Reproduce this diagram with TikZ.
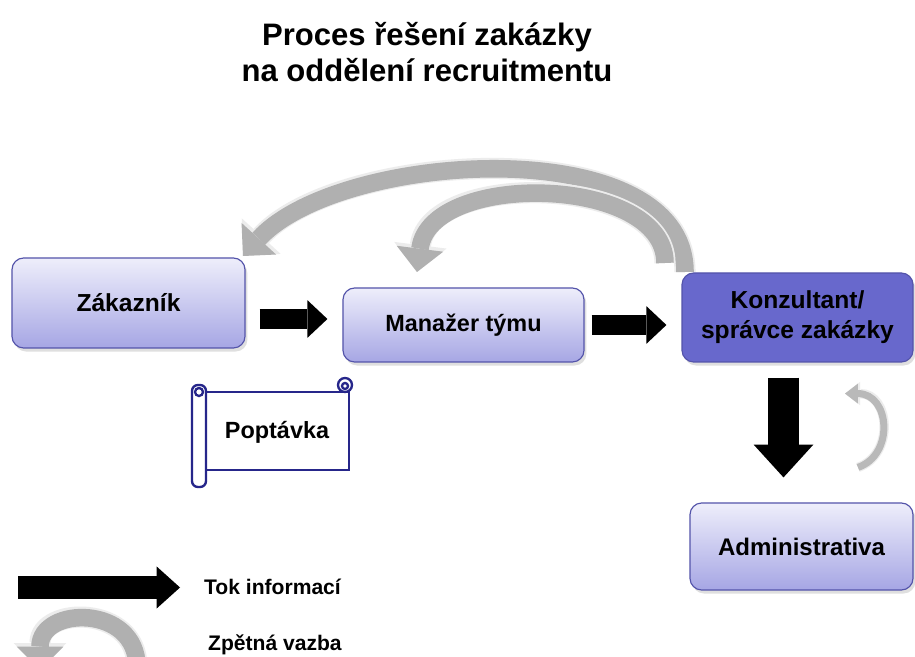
\documentclass[tikz,border=0pt]{standalone}
\usepackage{fontspec}
\setmainfont{Liberation Sans}
\usetikzlibrary{positioning, arrows.meta, shadows, calc}
\definecolor{boxtop}{RGB}{238,238,251}
\definecolor{boxbot}{RGB}{166,166,228}
\definecolor{boxline}{RGB}{84,84,170}
\definecolor{konfill}{RGB}{104,104,204}
\definecolor{scrline}{RGB}{38,38,138}
\tikzstyle{blok}=[draw=boxline, line width=1pt, rounded corners=10pt, top color=boxtop, bottom color=boxbot, align=center, font=\fontsize{21}{25.5}\selectfont\bfseries, drop shadow={opacity=0.25, shadow xshift=2pt, shadow yshift=-3pt}]
\tikzstyle{blokdark}=[blok, top color=konfill, bottom color=konfill]
\tikzstyle{flow}=[line width=17pt, -{Triangle[width=32pt,length=17pt,line width=0pt]}]
\tikzstyle{fb}=[line width=15pt, draw=gray!62, -{Triangle[width=40pt,length=20pt,line width=0pt]}, preaction={draw=gray!15, line width=18pt, -{Triangle[width=45pt,length=23pt,line width=0pt]}}]
\tikzstyle{scroll}=[draw=scrline, line width=2pt, fill=white]
\tikzstyle{legtext}=[anchor=west, font=\fontsize{18}{21}\selectfont\bfseries]

\begin{document}
\begin{tikzpicture}[x=0.03cm, y=-0.03cm]
  \useasboundingbox[fill=white] (0,0) rectangle (915,657);
  % title
  \node[align=center, font=\fontsize{26.5}{30}\selectfont\bfseries] (title) at (427,52) {Proces řešení zakázky\\na oddělení recruitmentu};
  % feedback arrows (behind the boxes)
  \draw[fb] (685,272) .. controls (685,130) and (340,150) .. (243,256);
  \draw[fb] (665,263) .. controls (665,175) and (430,170) .. (417,272);
  % boxes
  \node[blok, minimum width=6.99cm, minimum height=2.7cm] (zak) at (128.5,303) {Zákazník};
  \node[blok, minimum width=7.23cm, minimum height=2.22cm, font=\fontsize{20}{24}\selectfont\bfseries] (man) at (463.5,325) {Manažer týmu};
  \node[blokdark, minimum width=6.93cm, minimum height=2.67cm] (kon) at (797.5,317.5) {Konzultant/\\správce zakázky};
  \node[blok, minimum width=6.69cm, minimum height=2.61cm, font=\fontsize{20.5}{24}\selectfont\bfseries] (adm) at (801.5,546.5) {Administrativa};
  % information flow
  \draw[flow] ([shift={(14,16)}]zak.east) -- ([shift={(-15,-6)}]man.west);
  \draw[flow] ([shift={(7,0)}]man.east) -- ([shift={(-15,7.5)}]kon.west);
  \coordinate (dA) at ([shift={(-14,15)}]kon.south);
  \draw[line width=27pt, -{Triangle[width=51pt,length=28pt,line width=0pt]}] (dA) -- ($(dA |- adm.north)+(0,-25)$);
  \draw[line width=6pt, draw=gray!55, -{Triangle[width=17pt,length=11pt,line width=0pt]}, preaction={draw=gray!15, line width=8pt, -{Triangle[width=20pt,length=13pt,line width=0pt]}}] ([shift={(56.5,-35)}]adm.north) .. controls +(37,-13) and +(45,0) .. ([shift={(47.5,31)}]kon.south);
  % scroll
  \draw[scroll] (206,392) -- (349,392) -- (349,470) -- (206,470);
  \draw[scroll] (345,385) circle (7);
  \draw[scroll] (345,386) circle (3);
  \draw[scroll, rounded corners=5pt] (192,385) rectangle (206,487);
  \draw[scroll] (199,392) circle (4);
  \node[font=\fontsize{20}{24}\selectfont\bfseries] (pop) at (277,432) {Poptávka};
  % legend
  \coordinate (tokA) at (18,587.5);
  \coordinate (tokB) at (180,587.5);
  \draw[line width=20pt, -{Triangle[width=36pt,length=20pt,line width=0pt]}] (tokA) -- (tokB);
  \node[legtext] (tok) at (200,587) {Tok informací};
  \begin{scope}
    \clip (0,0) rectangle (915,657);
    \coordinate (zpA) at (137,667);
    \coordinate (zpB) at (40,670);
    \draw[fb] (zpA) .. controls (137,604) and (40,606) .. (zpB);
  \end{scope}
  \node[legtext] (zp) at (204,645) {Zpětná vazba};
\end{tikzpicture}
\end{document}
